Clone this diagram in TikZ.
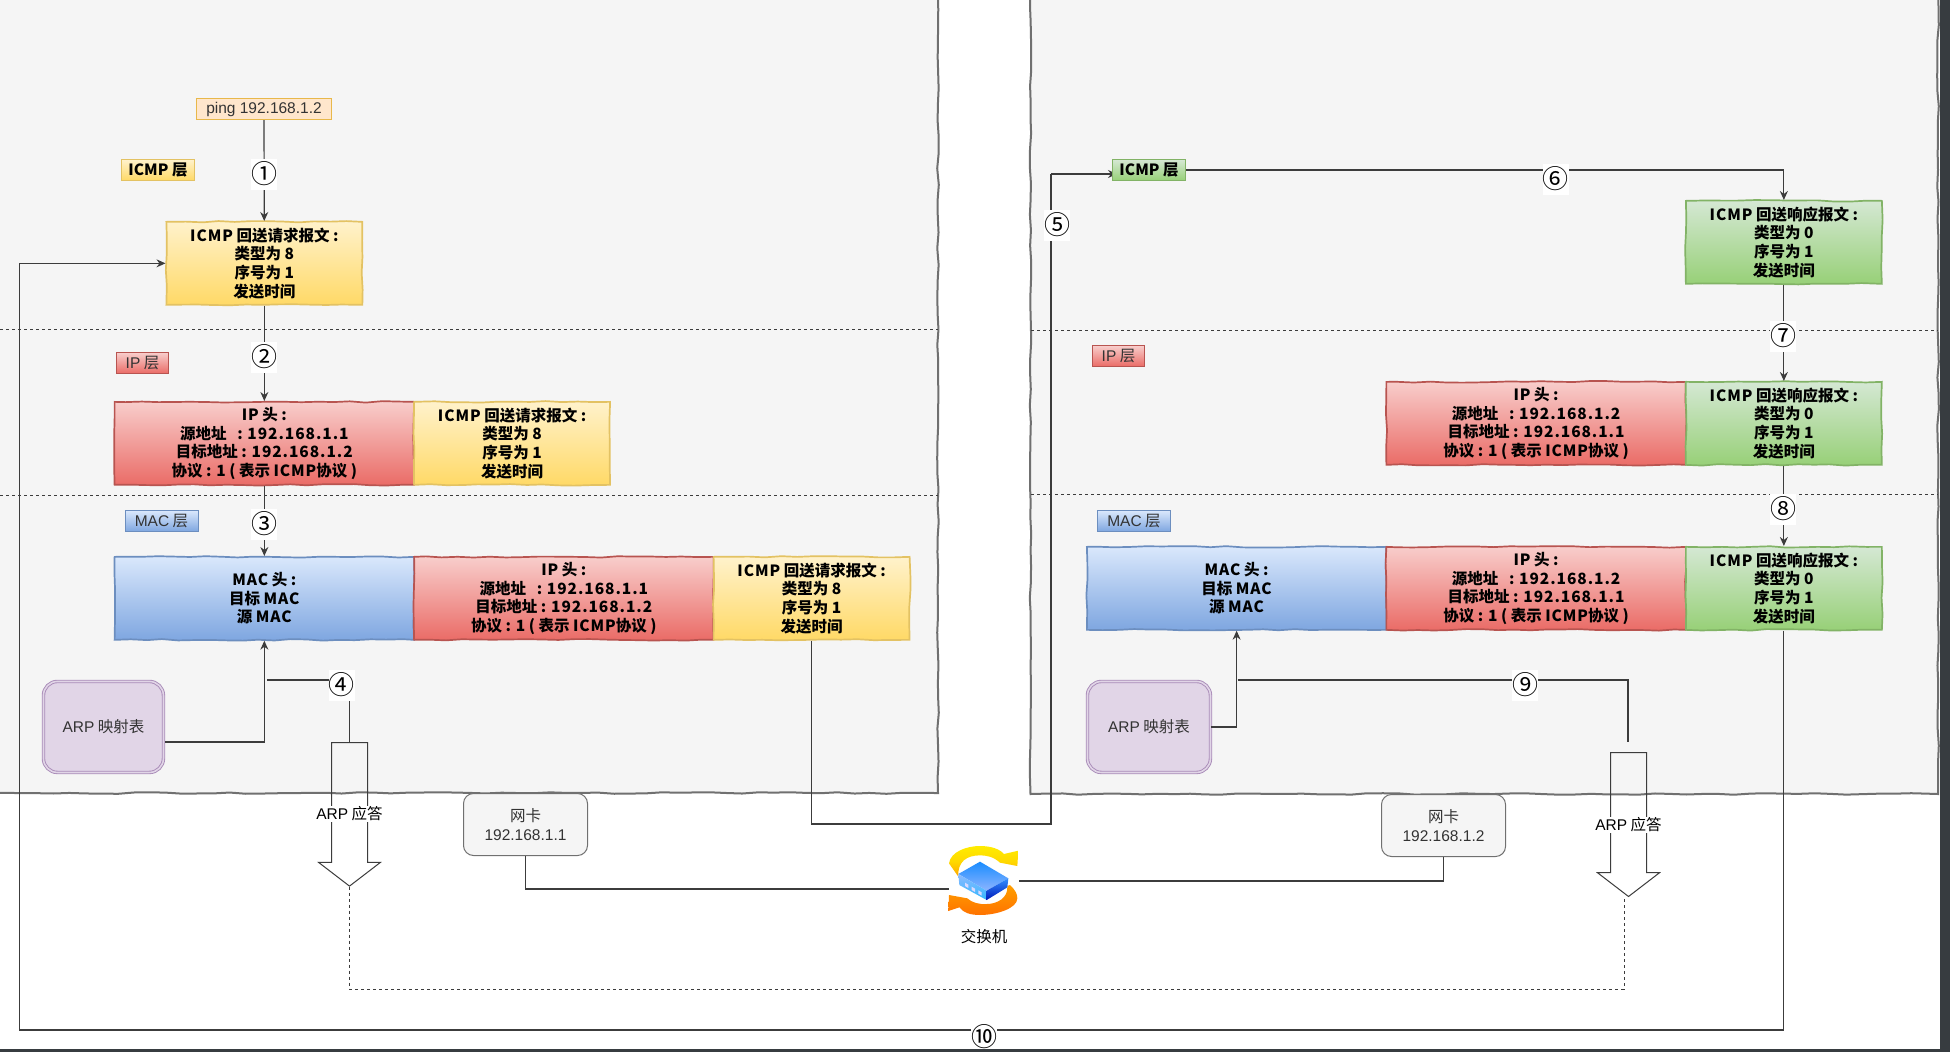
\documentclass[tikz,border=0pt]{standalone}
\usepackage{fontspec}
\setmainfont{Noto Sans CJK SC}
\newfontfamily\latinface{Liberation Sans}
\usepackage{xcolor}
\usetikzlibrary{shapes.arrows,arrows.meta,decorations.pathmorphing}

\newcommand{\cellfont}{\fontsize{15.5}{18.6}\selectfont\bfseries}
\newcommand{\plainfont}{\fontsize{15.5}{18.5}\selectfont}
\newcommand{\wide}[1]{{\addfontfeature{LetterSpace=6}#1}}
\newcommand{\lat}[1]{{\latinface #1}}
\newcommand{\icmpReq}{\wide{ICMP} 回送请求报文 :\\类型为 8\\序号为 1\\发送时间}
\newcommand{\icmpRep}{\wide{ICMP} 回送响应报文 :\\类型为 0\\序号为 1\\发送时间}
\newcommand{\macHead}{\wide{MAC} 头 :\\目标 \wide{MAC}\\源 \wide{MAC}}
\newcommand{\ipHeadA}{\wide{IP} 头 :\\源地址 \ \ : \wide{192.168.1.1}\\目标地址 : \wide{192.168.1.2}\\协议 : 1 ( 表示 \wide{ICMP}协议 )}
\newcommand{\ipHeadB}{\wide{IP} 头 :\\源地址 \ \ : \wide{192.168.1.2}\\目标地址 : \wide{192.168.1.1}\\协议 : 1 ( 表示 \wide{ICMP}协议 )}

\tikzset{
    wobble/.style={decorate, decoration={random steps, segment length=16pt, amplitude=0.8pt}},
    panel/.style={wobble, draw=panelline, fill=panelfill, line width=2pt},
    cell/.style={wobble, draw, line width=1.7pt, anchor=north west, inner sep=0pt, align=center,
        minimum height=83pt, text=black, font=\cellfont, execute at begin node={\rule{0pt}{18pt}}},
    yellowcell/.style={cell, draw=yellowline, top color=yellowtop, bottom color=yellowend, minimum width=196pt},
    redcell/.style={cell, draw=redline, top color=redtop, bottom color=redend, minimum width=299.5pt},
    bluecell/.style={cell, draw=blueline, top color=bluetop, bottom color=blueend, minimum width=299.5pt},
    greencell/.style={cell, draw=greenline, top color=greentop, bottom color=greenend, minimum width=196pt},
    tag/.style={draw, line width=1pt, anchor=north west, inner sep=0pt, minimum height=21pt, font=\plainfont},
    maptable/.style={draw=lilacline, double=lilacfill, fill=lilacfill, double distance=1.6pt, line width=0.9pt,
        rounded corners=14pt, anchor=north west, minimum width=120pt, minimum height=91pt, inner sep=0pt,
        text=textgray, font=\plainfont},
    niccard/.style={draw=panelline, fill=panelfill, line width=1pt, rounded corners=10pt, anchor=north west,
        minimum width=124pt, minimum height=62pt, inner sep=0pt, align=center, text=textgray, font=\plainfont},
    respshape/.style={draw=linkgray, line width=1pt, single arrow, shape border rotate=270, inner sep=17.5pt,
        single arrow head extend=13pt, single arrow tip angle=105, anchor=tail},
    resplabel/.style={fill=white, inner sep=1pt, text=black, font=\plainfont},
    link/.style={draw=linkgray, line width=1.2pt},
    linkto/.style={link, -{Stealth[length=9pt,width=8pt]}},
    dotline/.style={draw=linkgray, line width=1pt, dash pattern=on 3pt off 3pt},
    stepmark/.style={fill=white, inner sep=0pt, minimum width=26pt, minimum height=31pt, text=black,
        font=\fontsize{26}{26}\selectfont},
}

\begin{document}
\begin{tikzpicture}[x=1pt,y=-1pt]
    % Colours
    \definecolor{panelfill}{HTML}{F5F5F5}
    \definecolor{panelline}{HTML}{707070}
    \definecolor{linkgray}{HTML}{3C3C3C}
    \definecolor{textgray}{HTML}{333333}
    \definecolor{edgedark}{HTML}{373C40}
    \definecolor{yellowline}{HTML}{E3C263}
    \definecolor{yellowtop}{HTML}{FFF2CC}
    \definecolor{yellowend}{HTML}{FFD966}
    \definecolor{redline}{HTML}{B85450}
    \definecolor{redtop}{HTML}{F8CECC}
    \definecolor{redend}{HTML}{EA6B66}
    \definecolor{blueline}{HTML}{6C8EBF}
    \definecolor{bluetop}{HTML}{DAE8FC}
    \definecolor{blueend}{HTML}{7EA6E0}
    \definecolor{greenline}{HTML}{82B366}
    \definecolor{greentop}{HTML}{D5E8D4}
    \definecolor{greenend}{HTML}{97D077}
    \definecolor{lilacline}{HTML}{A98BB8}
    \definecolor{lilacfill}{HTML}{E1D5E7}
    \definecolor{pingfill}{HTML}{FFE6CC}
    \definecolor{pingline}{HTML}{E8B84A}

    \clip (0,0) rectangle (1950,1052);
    \fill[white] (0,0) rectangle (1950,1052);
    \pgfmathsetseed{7}

    % Host panels
    \draw[panel] (-10,-10) rectangle (938,793);
    \draw[panel] (1030.5,-10) rectangle (1938,794);

    % Layer separators
    \foreach \y/\a/\b in {329/0/938, 495/0/938, 330/1031/1938, 494/1031/1938} {
        \draw[dotline] (\a,\y) -- (\b,\y);
    }

    % Left host
    \node[tag, draw=pingline, fill=pingfill, minimum width=135pt, text=textgray] (ping) at (196,98) {\lat{ping 192.168.1.2}};
    \node[tag, draw=yellowline, top color=yellowtop, bottom color=yellowend, minimum width=73pt, font=\plainfont\bfseries] (tagIcmpA) at (121,159) {ICMP 层};
    \node[tag, draw=redline, top color=redtop, bottom color=redend, minimum width=52pt, text=textgray] (tagIpA) at (116,352) {\lat{IP} 层};
    \node[tag, draw=blueline, top color=bluetop, bottom color=blueend, minimum width=73pt, text=textgray] (tagMacA) at (124.5,510) {\lat{MAC} 层};

    \node[yellowcell] (reqA) at (165.5,221) {\icmpReq};
    \node[redcell] (ipA) at (113.75,401) {\ipHeadA};
    \node[yellowcell] (reqB) at (413.25,401) {\icmpReq};
    \node[bluecell] (macA) at (113.75,556) {\macHead};
    \node[redcell] (ipC) at (413.25,556) {\ipHeadA};
    \node[yellowcell] (reqC) at (712.75,556) {\icmpReq};

    \node[maptable] (arpA) at (43,681) {\lat{ARP} 映射表};
    \node[niccard] (nicA) at (463,793) {网卡\\\lat{192.168.1.1}};
    \node[respshape, minimum height=143.6pt] (respA) at (349.5,742) {};
    \node[resplabel] (respTextA) at (349.5,814) {\lat{ARP} 应答};

    % Right host
    \node[tag, draw=redline, top color=redtop, bottom color=redend, minimum width=52pt, text=textgray] (tagIpB) at (1092,345) {\lat{IP} 层};
    \node[tag, draw=blueline, top color=bluetop, bottom color=blueend, minimum width=73pt, text=textgray] (tagMacB) at (1097,510) {\lat{MAC} 层};

    \node[greencell] (repA) at (1685,200) {\icmpRep};
    \node[redcell] (ipD) at (1385.5,381) {\ipHeadB};
    \node[greencell] (repB) at (1685,381) {\icmpRep};
    \node[bluecell] (macB) at (1086,546) {\macHead};
    \node[redcell] (ipE) at (1385.5,546) {\ipHeadB};
    \node[greencell] (repC) at (1685,546) {\icmpRep};

    \node[maptable, minimum width=123pt] (arpB) at (1087,681) {\lat{ARP} 映射表};
    \node[niccard] (nicB) at (1381,794) {网卡\\\lat{192.168.1.2}};
    \node[respshape, minimum height=144pt] (respB) at (1628.5,752) {};
    \node[resplabel] (respTextB) at (1628.5,825) {\lat{ARP} 应答};

    % Switch icon
    \begin{scope}[shift={(930,830)}, x=0.3333pt, y=-0.3333pt]
        \path[top color=yellow!85!orange, bottom color=orange!70!yellow, middle color=yellow!70!orange]
            (57,100) .. controls (62,65) and (110,48) .. (150,48)
            .. controls (185,48) and (210,58) .. (222,72) -- (265,62) -- (262,108) -- (210,98)
            .. controls (190,80) and (170,76) .. (150,76)
            .. controls (110,76) and (82,95) .. (85,140) -- cycle;
        \path[top color=orange!75!yellow, bottom color=orange!90!red]
            (240,165) .. controls (255,180) and (262,190) .. (262,205)
            .. controls (262,235) and (200,255) .. (150,255)
            .. controls (120,255) and (100,248) .. (88,232) -- (55,243) -- (57,195) -- (112,205)
            .. controls (125,218) and (150,224) .. (170,222)
            .. controls (200,222) and (235,205) .. (232,168) -- cycle;
        \path[top color=blue!50!cyan!90!white, bottom color=cyan!35!blue!45!white]
            (150,95) -- (235,145) -- (170,182) -- (85,132) -- cycle;
        \path[top color=cyan!40!blue!45!white, bottom color=blue!35!cyan!80!white]
            (85,132) -- (170,182) -- (170,210) -- (88,165) -- cycle;
        \path[top color=blue!55!cyan!80!white, bottom color=blue!70!black!90!cyan]
            (170,182) -- (235,145) -- (232,172) -- (170,210) -- cycle;
        \fill[white!85!blue] (105,158) -- (115,164) -- (115,174) -- (105,168) -- cycle;
        \fill[white!85!blue] (125,170) -- (135,176) -- (135,186) -- (125,180) -- cycle;
        \fill[white!85!blue] (145,181) -- (155,187) -- (155,197) -- (145,191) -- cycle;
    \end{scope}
    \node[text=black, font=\plainfont] (switchName) at (984,937) {交换机};

    % Free ends of the connectors
    \coordinate (arpOutA) at (165,742);
    \coordinate (tapA) at (267,680);
    \coordinate (tapB) at (1237.5,680);
    \coordinate (freeB) at (1628,742);
    \coordinate (swLeft) at (949,889);
    \coordinate (swRight) at (1019,881);
    \coordinate (wireCorner) at (1051,824);
    \coordinate (tagEntry) at (1117,174);
    \coordinate (loopCorner) at (19.5,1030);
    \coordinate (dashCorner) at (1624,989);
    \coordinate (dashEnd) at (1624,896);

    % Left connectors
    \draw[linkto] (ping) -- (reqA);
    \draw[linkto] (reqA) -- (ipA);
    \draw[linkto] (ipA) -- (macA);
    \draw[linkto] (arpOutA) -| (macA.south);
    \draw[link] (tapA) -| (respA.tail);
    \draw[link] (nicA.south) |- (swLeft);

    % Across the switch, the tag sits over the arrow that runs into it
    \draw[link] (reqC.south) |- (wireCorner) -- (wireCorner |- tagEntry);
    \draw[linkto] (wireCorner |- tagEntry) -- (tagEntry);
    \draw[link] (swRight) -| (nicB.south);
    \node[tag, draw=greenline, top color=greentop, bottom color=greenend, minimum width=73pt, font=\plainfont\bfseries] (tagIcmpB) at (1112,159) {ICMP 层};

    % Right connectors
    \draw[linkto] (tagIcmpB.east) -| (repA.north);
    \draw[linkto] (repA) -- (repB);
    \draw[linkto] (repB) -- (repC);
    \draw[linkto] (arpB.east) -| (macB.south);
    \draw[link] (tapB) -| (freeB);

    % The way back and the ARP reply
    \draw[linkto] (repC.south) |- (loopCorner) |- (reqA.west);
    \draw[dotline] (respA.tip) |- (dashCorner) -- (dashEnd);

    % Step numbers
    \foreach \x/\y/\mark/\nm in {264/174/①/one, 264/357/②/two, 264/524/③/three, 341.5/685/④/four,
        1057/225/⑤/five, 1555.5/179/⑥/six, 1783/336/⑦/seven, 1783/509/⑧/eight,
        1525/685/⑨/nine, 984/1037/⑩/ten} {
        \node[stepmark] (step\nm) at (\x,\y) {\mark};
    }

    % Window edge
    \fill[edgedark] (1940,0) rectangle (1950,1052);
    \fill[edgedark] (0,1049) rectangle (1950,1052);
\end{tikzpicture}
\end{document}
